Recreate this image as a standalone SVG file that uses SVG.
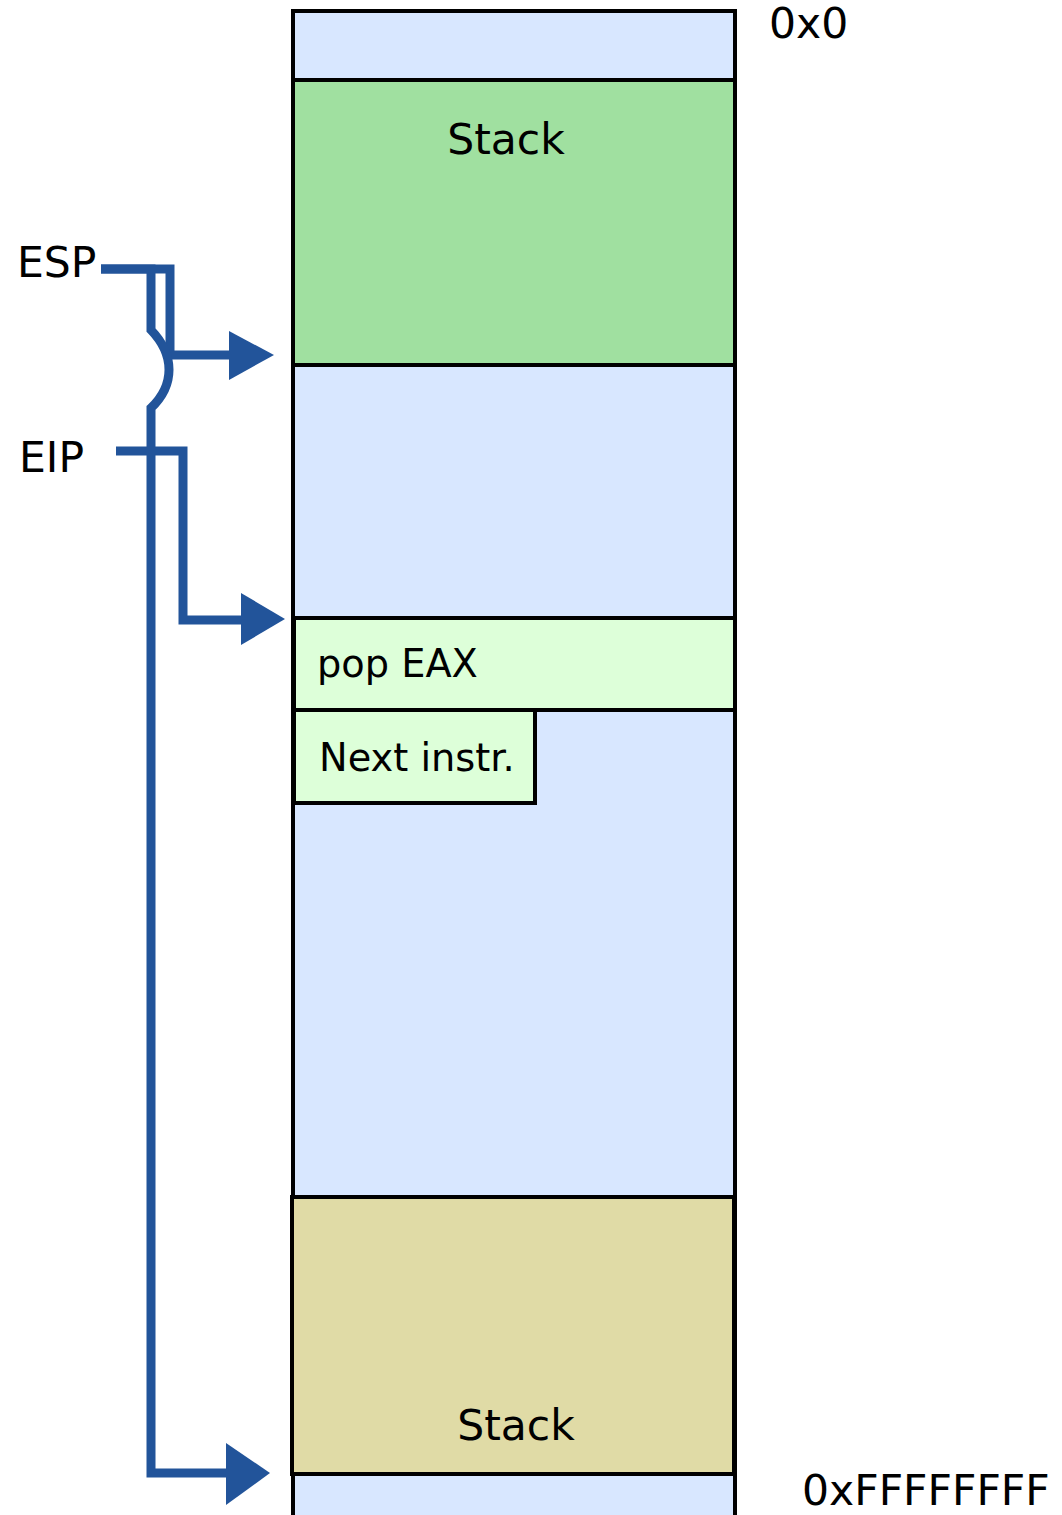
<svg xmlns="http://www.w3.org/2000/svg" width="1062" height="1515" viewBox="0 0 1062 1515">
<style>
.box{stroke:#000;stroke-width:4}
.t{font-family:"DejaVu Sans",sans-serif;font-size:42.5px;fill:#000}
.s{font-size:38.3px}
.c{fill:none;stroke:#22549a;stroke-width:9}
.ah{fill:#22549a}
</style>
<rect width="1062" height="1515" fill="#fff"/>
<g id="memory">
<rect class="box" x="293" y="11" width="442" height="1520" fill="#d8e7ff"/>
</g>
<g id="stack-top">
<rect class="box" x="293" y="80" width="442" height="285" fill="#a0e0a0"/>
<text class="t" x="506" y="154" text-anchor="middle">Stack</text>
</g>
<g id="pop-eax">
<rect class="box" x="294" y="618" width="441" height="92" fill="#ddffd9"/>
<text class="t s" x="317" y="677">pop EAX</text>
</g>
<g id="next-instr">
<rect class="box" x="294" y="710" width="241" height="93" fill="#ddffd9"/>
<text class="t s" x="319" y="771">Next instr.</text>
</g>
<g id="stack-bottom">
<rect class="box" x="292" y="1197" width="442" height="277" fill="#e0dba6"/>
<text class="t" x="516" y="1440" text-anchor="middle">Stack</text>
</g>
<g id="labels">
<text class="t" x="769" y="38">0x0</text>
<text class="t" x="802" y="1505">0xFFFFFFFF</text>
<text class="t" x="17" y="277">ESP</text>
<text class="t" x="19" y="472">EIP</text>
</g>
<g id="connectors">
<path class="c" d="M101,269 H170 V355 H232"/>
<polygon class="ah" points="229,331 274,355 229,380"/>
<path class="c" d="M101,269 H151 V330 C175,355 175,385 151,408 V1473 H228"/>
<polygon class="ah" points="226,1443 270,1473 226,1505"/>
<path class="c" d="M116,451 H183 V620 H243"/>
<polygon class="ah" points="241,593 285,619 241,645"/>
</g>
</svg>
